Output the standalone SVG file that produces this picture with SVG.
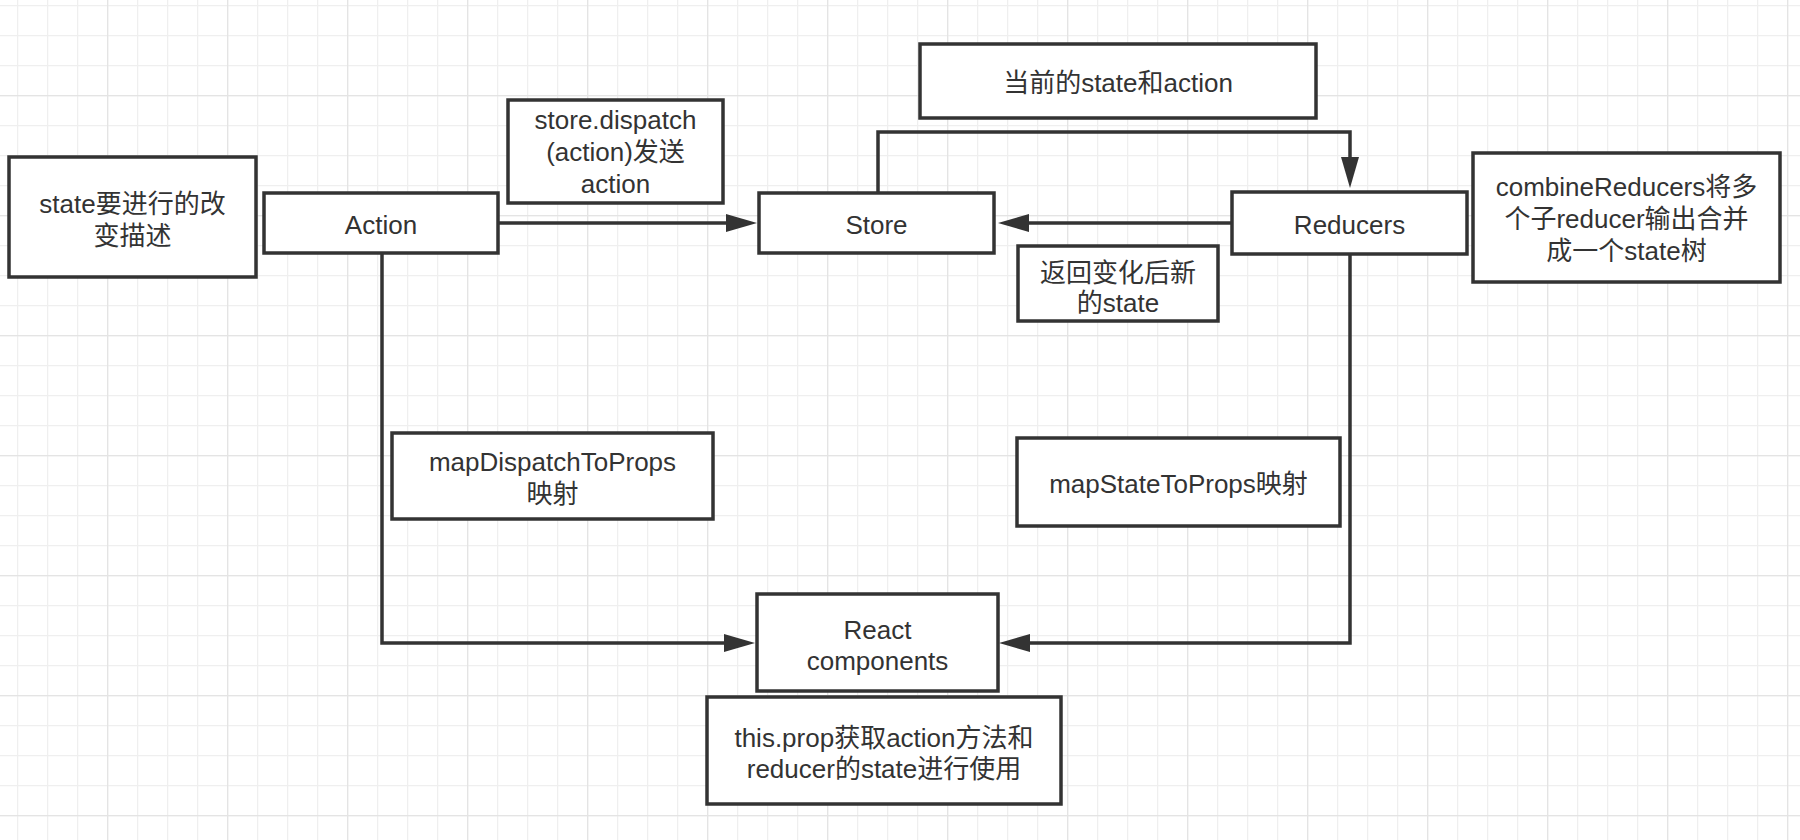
<svg xmlns="http://www.w3.org/2000/svg" width="1800" height="840" viewBox="0 0 1800 840">
  <defs>
    <!-- background grid: fine 30px cells, stronger line every 4 cells -->
    <pattern id="gridMinor" patternUnits="userSpaceOnUse" x="17" y="5" width="30" height="30">
      <path d="M0,0.5 H30 M0.5,0 V30" fill="none" stroke="#efefef" stroke-width="1.5"/>
    </pattern>
    <pattern id="gridMajor" patternUnits="userSpaceOnUse" x="107" y="95" width="120" height="120">
      <path d="M0,0.5 H120 M0.5,0 V120" fill="none" stroke="#e4e4e4" stroke-width="1.5"/>
    </pattern>
    <!-- solid triangular arrowhead, placed with its base at the path end -->
    <marker id="arrow" markerUnits="userSpaceOnUse" markerWidth="31" markerHeight="18" refX="1" refY="9" orient="auto">
      <path d="M0,0 L31,9 L0,18 z" fill="#333333"/>
    </marker>
    <style>
      .box { fill: #ffffff; stroke: #333333; stroke-width: 3.5; }
      .label { font-family: "Liberation Sans", Arial, "Noto Sans CJK SC", sans-serif; font-size: 26px; fill: #333333; text-anchor: middle; }
      .edge { fill: none; stroke: #333333; stroke-width: 3.5; }
    </style>
  </defs>

  <rect width="1800" height="840" fill="#ffffff"/>
  <rect width="1800" height="840" fill="url(#gridMinor)"/>
  <rect width="1800" height="840" fill="url(#gridMajor)"/>

  <!-- connectors -->
  <g id="connectors">
    <path class="edge" d="M498,223 H727" marker-end="url(#arrow)"/>
    <path class="edge" d="M878,193 V132 H1350 V158" marker-end="url(#arrow)"/>
    <path class="edge" d="M1232,223 H1028" marker-end="url(#arrow)"/>
    <path class="edge" d="M382,253 V643 H725" marker-end="url(#arrow)"/>
    <path class="edge" d="M1350,254 V643 H1029" marker-end="url(#arrow)"/>
  </g>

  <g id="node-change-desc">
    <rect class="box" x="9" y="157" width="247" height="120"/>
    <text class="label" x="132.5" y="213">state要进行的改</text>
    <text class="label" x="132.5" y="245">变描述</text>
  </g>

  <g id="node-action">
    <rect class="box" x="264" y="193" width="234" height="60"/>
    <text class="label" x="381" y="234">Action</text>
  </g>

  <g id="node-dispatch-note">
    <rect class="box" x="508" y="100" width="215" height="103"/>
    <text class="label" x="615.5" y="129">store.dispatch</text>
    <text class="label" x="615.5" y="161">(action)发送</text>
    <text class="label" x="615.5" y="193">action</text>
  </g>

  <g id="node-store">
    <rect class="box" x="759" y="193" width="235" height="60"/>
    <text class="label" x="876.5" y="234">Store</text>
  </g>

  <g id="node-current-note">
    <rect class="box" x="920" y="44" width="396" height="74"/>
    <text class="label" x="1118" y="92">当前的state和action</text>
  </g>

  <g id="node-reducers">
    <rect class="box" x="1232" y="192" width="235" height="62"/>
    <text class="label" x="1349.5" y="234">Reducers</text>
  </g>

  <g id="node-combine-note">
    <rect class="box" x="1473" y="153" width="307" height="129"/>
    <text class="label" x="1626.5" y="196">combineReducers将多</text>
    <text class="label" x="1626.5" y="228">个子reducer输出合并</text>
    <text class="label" x="1626.5" y="260">成一个state树</text>
  </g>

  <g id="node-return-note">
    <rect class="box" x="1018" y="246" width="200" height="75"/>
    <text class="label" x="1118" y="282">返回变化后新</text>
    <text class="label" x="1118" y="312">的state</text>
  </g>

  <g id="node-map-dispatch">
    <rect class="box" x="392" y="433" width="321" height="86"/>
    <text class="label" x="552.5" y="471">mapDispatchToProps</text>
    <text class="label" x="552.5" y="503">映射</text>
  </g>

  <g id="node-map-state">
    <rect class="box" x="1017" y="438" width="323" height="88"/>
    <text class="label" x="1178.5" y="493">mapStateToProps映射</text>
  </g>

  <g id="node-react">
    <rect class="box" x="757" y="594" width="241" height="97"/>
    <text class="label" x="877.5" y="639">React</text>
    <text class="label" x="877.5" y="670">components</text>
  </g>

  <g id="node-props-note">
    <rect class="box" x="707" y="697" width="354" height="107"/>
    <text class="label" x="884" y="747">this.prop获取action方法和</text>
    <text class="label" x="884" y="778">reducer的state进行使用</text>
  </g>
</svg>
